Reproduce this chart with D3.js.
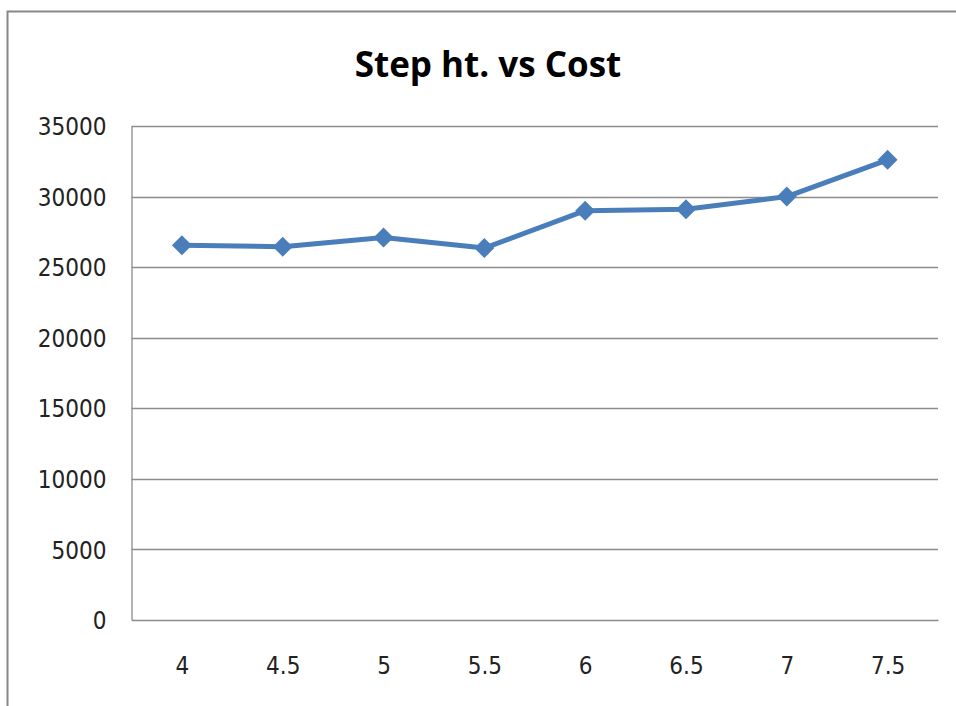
<!DOCTYPE html>
<html>
<head>
<meta charset="utf-8">
<script src="https://cdn.jsdelivr.net/npm/d3@7"></script>
<style>
  html, body { margin: 0; padding: 0; background: #fff; }
  svg { display: block; }
  .tick text { font-family: "DejaVu Sans Condensed", "Liberation Sans Narrow", sans-serif; font-stretch: condensed; font-size: 24px; fill: #222; }
</style>
</head>
<body>
<svg id="chart" width="956" height="706"></svg>
<script>
// Step height (categories) against cost
const stepHeights = ["4", "4.5", "5", "5.5", "6", "6.5", "7", "7.5"];
const costs = [26550, 26450, 27100, 26350, 29000, 29100, 30000, 32600];
const yTicks = [0, 5000, 10000, 15000, 20000, 25000, 30000, 35000];
const title = "Step ht. vs Cost";

const W = 956, H = 706;
const plot = { left: 131.5, top: 126, right: 938, bottom: 620 };

const svg = d3.select("#chart");

// outer chart frame
svg.append("rect")
  .attr("x", 7.5).attr("y", 11.5)
  .attr("width", W + 10).attr("height", H + 10)
  .attr("fill", "#fff")
  .attr("stroke", "#888").attr("stroke-width", 2);

svg.append("text")
  .attr("x", 488).attr("y", 77)
  .attr("text-anchor", "middle")
  .attr("font-family", "'Open Sans', 'Noto Sans', sans-serif")
  .attr("font-weight", "bold")
  .attr("font-size", 35)
  .attr("fill", "#000")
  .text(title);

const x = d3.scalePoint()
  .domain(stepHeights)
  .range([plot.left, plot.right])
  .padding(0.5);

const y = d3.scaleLinear()
  .domain([0, 35000])
  .range([plot.bottom, plot.top]);

// horizontal gridlines
svg.append("g")
  .selectAll("line")
  .data(yTicks.filter(d => d > 0))
  .join("line")
  .attr("x1", plot.left).attr("x2", plot.right)
  .attr("y1", d => Math.round(y(d)) + 0.5)
  .attr("y2", d => Math.round(y(d)) + 0.5)
  .attr("stroke", "#8c8c8c").attr("stroke-width", 1.3);

// y axis
const yAxis = svg.append("g")
  .attr("transform", `translate(${plot.left},0)`)
  .call(d3.axisLeft(y).tickValues(yTicks).tickSize(0).tickPadding(25).tickFormat(d3.format("d")));
yAxis.select(".domain").attr("stroke", "#8c8c8c").attr("stroke-width", 1.3);
yAxis.selectAll(".tick text").attr("dy", "0.36em");

// x axis
const xAxis = svg.append("g")
  .attr("transform", `translate(0,${plot.bottom})`)
  .call(d3.axisBottom(x).tickSize(0).tickPadding(37));
xAxis.select(".domain").attr("stroke", "#8c8c8c").attr("stroke-width", 1.3);

// series line
const line = d3.line()
  .x((d, i) => x(stepHeights[i]))
  .y(d => y(d));

svg.append("path")
  .datum(costs)
  .attr("d", line)
  .attr("fill", "none")
  .attr("stroke", "#4a7ebb")
  .attr("stroke-width", 5)
  .attr("stroke-linejoin", "round");

// diamond markers
svg.append("g")
  .selectAll("path")
  .data(costs)
  .join("path")
  .attr("transform", (d, i) => `translate(${x(stepHeights[i])},${y(d)})`)
  .attr("d", () => {
    const r = 10;
    return `M0,${-r}L${r},0L0,${r}L${-r},0Z`;
  })
  .attr("fill", "#4a7ebb");
</script>
</body>
</html>
